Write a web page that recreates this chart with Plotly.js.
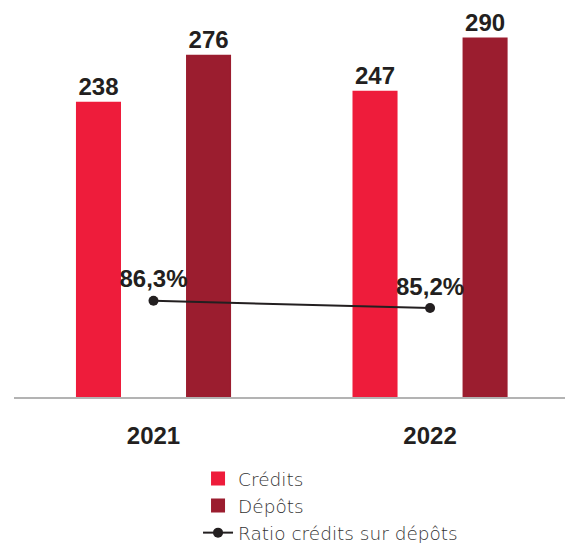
<!DOCTYPE html>
<html>
<head>
<meta charset="utf-8">
<script src="https://cdn.plot.ly/plotly-3.0.1.min.js"></script>
<style>html,body{margin:0;padding:0;background:#fff;}#chart{width:565px;height:543px;}</style>
</head>
<body>
<div id="chart"></div>
<script>
const years = ['2021', '2022'];
const credits = [238, 247];
const depots = [276, 290];
const ratio = [86.3, 85.2];
const ratioLabels = ['86,3%', '85,2%'];
const seriesNames = ['Crédits', 'Dépôts', 'Ratio crédits sur dépôts'];

const numFont = {family: '"Liberation Sans", Arial, sans-serif', size: 24, color: '#231f20', weight: 'bold'};

const traces = [
  {
    type: 'bar', name: seriesNames[0], x: years, y: credits,
    marker: {color: '#ee1c3b', line: {color: '#ee1c3b', width: 2}},
    text: credits.map(String), textposition: 'outside', cliponaxis: false,
    textfont: numFont, hoverinfo: 'skip'
  },
  {
    type: 'bar', name: seriesNames[1], x: years, y: depots,
    marker: {color: '#9b1d2f', line: {color: '#9b1d2f', width: 2}},
    text: depots.map(String), textposition: 'outside', cliponaxis: false,
    textfont: numFont, hoverinfo: 'skip'
  },
  {
    type: 'scatter', mode: 'lines+markers+text', name: seriesNames[2],
    x: years, y: ratio, yaxis: 'y2',
    line: {color: '#231f20', width: 2},
    marker: {color: '#231f20', size: 10},
    text: ratioLabels, textposition: 'top center', textfont: numFont,
    cliponaxis: false, hoverinfo: 'skip'
  }
];

const layout = {
  width: 565, height: 543,
  margin: {l: 14, r: 0, t: 0, b: 146, autoexpand: false},
  paper_bgcolor: '#fff', plot_bgcolor: '#fff',
  barmode: 'group', bargap: 0.204, bargroupgap: 0.609,
  showlegend: true,
  legend: {
    orientation: 'v', x: 0.334, xanchor: 'left', y: -0.1587, yanchor: 'top',
    font: {family: '"DejaVu Sans", "Liberation Sans", Arial, sans-serif', size: 18.5, color: '#333333', weight: 200},
    tracegroupgap: 0, bgcolor: 'rgba(0,0,0,0)'
  },
  xaxis: {
    type: 'category', range: [-0.5045, 1.488], fixedrange: true,
    showline: true, linecolor: '#b3b3b3', linewidth: 1.5,
    showgrid: false, zeroline: false, ticks: '',
    ticklabelstandoff: 17,
    tickfont: numFont
  },
  yaxis: {range: [0, 321.2], visible: false, showgrid: false, zeroline: false, fixedrange: true},
  yaxis2: {range: [71.8, 131.6], overlaying: 'y', visible: false, showgrid: false, zeroline: false, fixedrange: true},
  font: {family: '"Liberation Sans", Arial, sans-serif'}
};

Plotly.newPlot('chart', traces, layout, {displayModeBar: false, staticPlot: true});
</script>
</body>
</html>
